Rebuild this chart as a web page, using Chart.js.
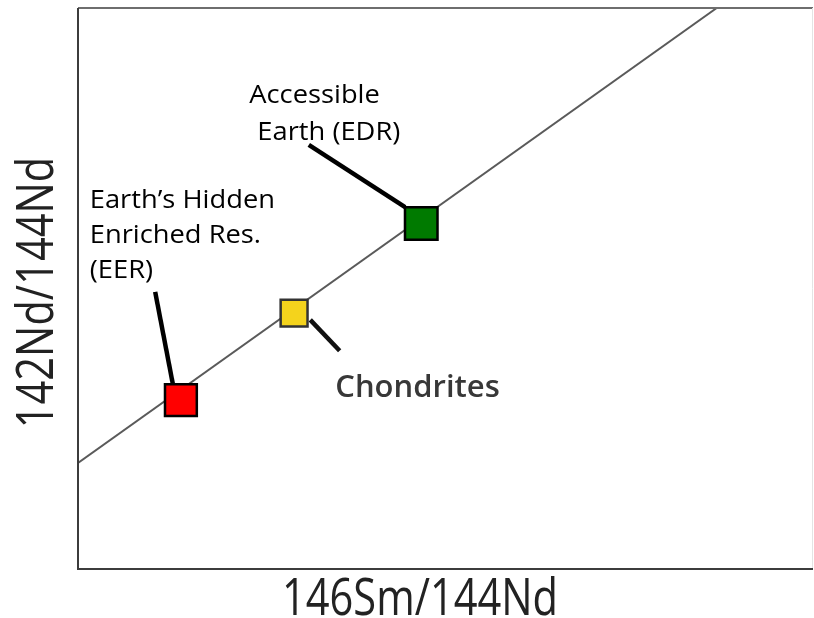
<!DOCTYPE html>
<html>
<head>
<meta charset="utf-8">
<script src="https://cdn.jsdelivr.net/npm/chart.js@4.4.1/dist/chart.umd.min.js"></script>
<style>
  html, body { margin: 0; padding: 0; background: #ffffff; }
  #wrap { width: 814px; height: 618px; }
</style>
</head>
<body>
<div id="wrap"><canvas id="c" width="814" height="618"></canvas></div>
<script>
// Reservoirs on the 142Nd/144Nd vs 146Sm/144Nd diagram (arbitrary units 0-100)
const reservoirNames = ['EER', 'Chondrites', 'EDR'];
const reservoirX = [14.0, 29.4, 46.7];
const reservoirY = [30.1, 45.6, 61.6];

// Reference line through the reservoirs
const lineX = [0, 86.9];
const lineY = [18.9, 100];

// Leader lines from labels to reservoirs
const eerLeaderX = [10.5, 12.9];
const eerLeaderY = [49.4, 33.0];
const edrLeaderX = [31.4, 44.5];
const edrLeaderY = [75.6, 64.5];
const chonLeaderX = [31.6, 35.6];
const chonLeaderY = [44.4, 38.9];

// Axis titles
const xTitle = '146Sm/144Nd';
const yTitle = '142Nd/144Nd';

const toPts = (xs, ys) => xs.map((x, i) => ({ x: x, y: ys[i] }));

// Text labels anchored in data units (left edge, baseline)
const noteFont = '26px "Open Sans", sans-serif';
const labels = [
  { text: 'Accessible', x: 23.3, y: 83.1, font: noteFont, color: '#000', sx: 1.05 },
  { text: 'Earth (EDR)', x: 24.4, y: 76.5, font: noteFont, color: '#000', sx: 1.05 },
  { text: 'Earth\u2019s Hidden', x: 1.6, y: 64.3, font: noteFont, color: '#000', sx: 1.05 },
  { text: 'Enriched Res.', x: 1.6, y: 58.1, font: noteFont, color: '#000', sx: 1.05 },
  { text: '(EER)', x: 1.6, y: 51.9, font: noteFont, color: '#000', sx: 1.05 },
  { text: 'Chondrites', x: 35.0, y: 30.7, font: '600 31px "Open Sans", sans-serif', color: '#383838', sx: 1.0 }
];

function drawText(ctx, t, x, y, font, color, sx, align) {
  ctx.save();
  ctx.font = font;
  ctx.fillStyle = color;
  ctx.textAlign = align || 'left';
  ctx.textBaseline = 'alphabetic';
  ctx.translate(x, y);
  ctx.scale(sx, 1);
  ctx.fillText(t, 0, 0);
  ctx.restore();
}

const framePlugin = {
  id: 'frame',
  afterDatasetsDraw(chart) {
    const { ctx, chartArea: a, scales } = chart;
    ctx.save();
    ctx.lineWidth = 2;
    ctx.strokeStyle = '#6e6e6e';
    ctx.beginPath(); ctx.moveTo(a.left, a.top); ctx.lineTo(a.right, a.top); ctx.stroke();
    ctx.strokeStyle = '#e4e4e4';
    ctx.lineWidth = 1;
    ctx.beginPath(); ctx.moveTo(a.right - 0.5, a.top); ctx.lineTo(a.right - 0.5, a.bottom); ctx.stroke();
    ctx.lineWidth = 2;
    ctx.strokeStyle = '#3c3c3c';
    ctx.beginPath(); ctx.moveTo(a.left, a.top); ctx.lineTo(a.left, a.bottom); ctx.lineTo(a.right, a.bottom); ctx.stroke();
    ctx.restore();

    labels.forEach(l => {
      drawText(ctx, l.text, scales.x.getPixelForValue(l.x), scales.y.getPixelForValue(l.y), l.font, l.color, l.sx);
    });

    const titleFont = '52px "Open Sans", sans-serif';
    drawText(ctx, xTitle, a.left + 342, 615, titleFont, '#222', 0.8, 'center');
    ctx.save();
    ctx.translate(53, (a.top + a.bottom) / 2 + 4);
    ctx.rotate(-Math.PI / 2);
    drawText(ctx, yTitle, 0, 0, titleFont, '#222', 0.8, 'center');
    ctx.restore();
  }
};

new Chart(document.getElementById('c'), {
  type: 'scatter',
  data: {
    datasets: [
      {
        label: 'line',
        data: toPts(lineX, lineY),
        showLine: true,
        borderColor: '#5a5a5a',
        borderWidth: 2,
        pointRadius: 0,
        order: 5
      },
      {
        label: 'EER leader',
        data: toPts(eerLeaderX, eerLeaderY),
        showLine: true, borderColor: '#000', borderWidth: 4.5, pointRadius: 0, order: 4
      },
      {
        label: 'EDR leader',
        data: toPts(edrLeaderX, edrLeaderY),
        showLine: true, borderColor: '#000', borderWidth: 4.5, pointRadius: 0, order: 4
      },
      {
        label: 'Chondrites leader',
        data: toPts(chonLeaderX, chonLeaderY),
        showLine: true, borderColor: '#111', borderWidth: 4.5, pointRadius: 0, order: 4
      },
      {
        label: 'Reservoirs',
        data: toPts(reservoirX, reservoirY),
        pointStyle: 'rect',
        pointRadius: [22.5, 19, 23],
        backgroundColor: ['#ff0000', '#f4d31c', '#007a00'],
        borderColor: ['#000', '#333', '#000'],
        borderWidth: 2.5,
        order: 1
      }
    ]
  },
  options: {
    responsive: false,
    animation: false,
    layout: { autoPadding: false, padding: { left: 78, top: 8, right: 1, bottom: 49 } },
    plugins: { legend: { display: false }, tooltip: { enabled: false } },
    scales: {
      x: { type: 'linear', min: 0, max: 100, display: false },
      y: { type: 'linear', min: 0, max: 100, display: false }
    }
  },
  plugins: [framePlugin]
});
</script>
</body>
</html>
